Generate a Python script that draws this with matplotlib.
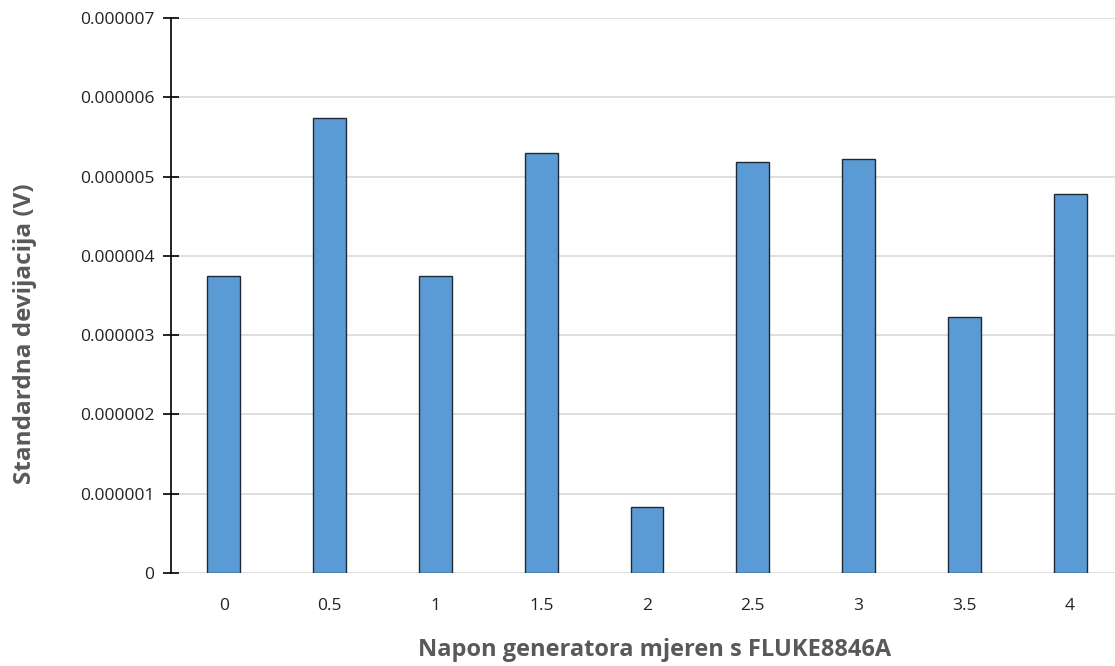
import matplotlib
matplotlib.use("Agg")
import matplotlib.pyplot as plt

categories = ["0", "0.5", "1", "1.5", "2", "2.5", "3", "3.5", "4"]
values = [3.75e-6, 5.735e-6, 3.75e-6, 5.293e-6, 0.836e-6, 5.18e-6, 5.22e-6, 3.229e-6, 4.78e-6]
yticks = [0, 1e-6, 2e-6, 3e-6, 4e-6, 5e-6, 6e-6, 7e-6]
ytick_labels = ["0", "0.000001", "0.000002", "0.000003", "0.000004", "0.000005", "0.000006", "0.000007"]

plt.rcParams['font.family'] = ['Open Sans', 'DejaVu Sans']

W, H = 1115, 666
fig = plt.figure(figsize=(W / 100, H / 100), dpi=100)
left, right, top, bottom = 171, 1123, 18, 573
ax = fig.add_axes([left / W, 1 - bottom / H, (right - left) / W, (bottom - top) / H])

x = list(range(len(categories)))
ax.bar(x, values, width=0.31, color='#5B9BD5', edgecolor='#1f2a36', linewidth=1.0, zorder=3)

ax.set_xlim(-0.5, len(categories) - 0.5)
ax.set_ylim(0, 7e-6)
ax.set_yticks(yticks)
ax.set_yticklabels(ytick_labels)
ax.set_xticks(x)
ax.set_xticklabels(categories)

ax.yaxis.grid(True, color='#d9d9d9', linewidth=1.2, zorder=0)
ax.set_axisbelow(True)

for s in ['top', 'right', 'bottom']:
    ax.spines[s].set_visible(False)
ax.spines['left'].set_color('black')
ax.spines['left'].set_linewidth(1.2)

ax.tick_params(axis='y', direction='inout', length=12, width=1.2, color='black',
               labelsize=12.5, labelcolor='#222222', pad=6)
ax.tick_params(axis='x', length=0, labelsize=12.5, labelcolor='#222222', pad=18)

ylab = ax.set_ylabel("Standardna devijacija (V)", fontsize=17.5, fontweight='bold', color='#595959',
                     va='center')
ax.yaxis.set_label_coords((25 - left) / (right - left), (bottom - 334) / (bottom - top))
xlab = ax.set_xlabel("Napon generatora mjeren s FLUKE8846A", fontsize=17, fontweight='bold', color='#595959',
                     va='center')
ax.xaxis.set_label_coords((655 - left) / (right - left), (bottom - 650) / (bottom - top))

fig.savefig("out.png", dpi=100)
